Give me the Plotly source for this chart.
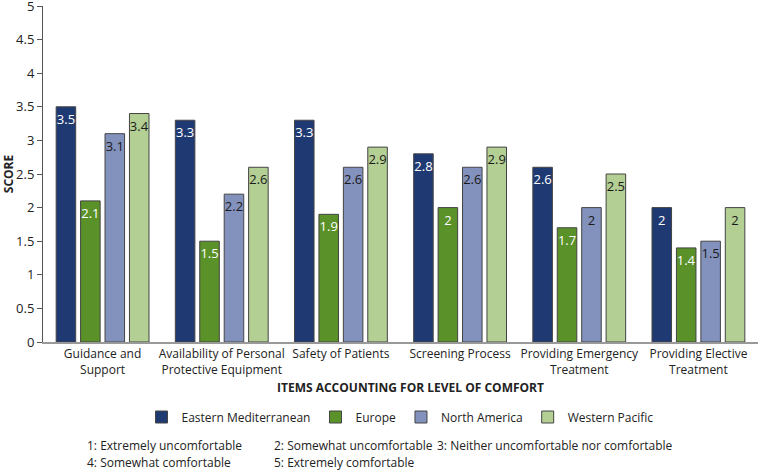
import plotly.graph_objects as go

categories = ["Guidance and<br>Support", "Availability of Personal<br>Protective Equipment",
              "Safety of Patients", "Screening Process",
              "Providing Emergency<br>Treatment", "Providing Elective<br>Treatment"]
series_names = ["Eastern Mediterranean", "Europe", "North America", "Western Pacific"]
eastern_med = [3.5, 3.3, 3.3, 2.8, 2.6, 2.0]
europe = [2.1, 1.5, 1.9, 2.0, 1.7, 1.4]
north_america = [3.1, 2.2, 2.6, 2.6, 2.0, 1.5]
western_pacific = [3.4, 2.6, 2.9, 2.9, 2.5, 2.0]
y_ticks = [0, 0.5, 1, 1.5, 2, 2.5, 3, 3.5, 4, 4.5, 5]
footnotes = ["1: Extremely uncomfortable", "2: Somewhat uncomfortable",
             "3: Neither uncomfortable nor comfortable",
             "4: Somewhat comfortable", "5: Extremely comfortable"]

colors = ["#1f3a73", "#5a9128", "#8391bd", "#b3cf94"]
text_colors = ["white", "white", "#1a1a1a", "#1a1a1a"]
FONT = "Open Sans"
FS = 12

L, T, B = 43, 6, 128
PW, PH = 758 - L, 470 - T - B

def px_x(x):
    return (x - L) / PW

def px_y(y):
    return (470 - B - y) / PH

fig = go.Figure()
for name, vals, c, tc in zip(series_names, [eastern_med, europe, north_america, western_pacific], colors, text_colors):
    fig.add_trace(go.Bar(
        x=categories, y=vals, name=name,
        marker=dict(color=c, line=dict(color="#444444", width=1)),
        text=[f"{v:g}" for v in vals], textposition="inside", insidetextanchor="end",
        textangle=0, textfont=dict(color=tc, size=13, family=FONT),
    ))

fig.update_layout(
    width=758, height=470,
    margin=dict(l=L, r=0, t=T, b=B),
    paper_bgcolor="white", plot_bgcolor="white",
    barmode="group", bargap=0.18, bargroupgap=0.2,
    font=dict(family=FONT, size=FS, color="#222222"),
    showlegend=True,
    legend=dict(orientation="h", x=px_x(400), xanchor="center", y=px_y(417), yanchor="middle",
                font=dict(size=FS, family=FONT), traceorder="normal", itemwidth=30,
                tracegroupgap=0),
    uniformtext=dict(mode="show", minsize=13),
)
fig.update_xaxes(showline=True, linecolor="#999999", linewidth=1.5, ticks="",
                 tickfont=dict(size=FS), automargin=False)
fig.update_yaxes(range=[0, 5], tickvals=y_ticks, ticktext=[f"{t:g}" for t in y_ticks],
                 showline=True, linecolor="#555555", linewidth=1, ticks="outside", ticklen=5,
                 tickcolor="#555555", showgrid=False, zeroline=False,
                 tickfont=dict(size=13), automargin=False, ticklabeloverflow="allow",
                 title=dict(text="<b>SCORE</b>", font=dict(size=FS), standoff=5))

ann = [dict(text="<b>ITEMS ACCOUNTING FOR LEVEL OF COMFORT</b>", xref="paper", yref="paper",
            x=px_x(411), y=px_y(387), xanchor="center", yanchor="middle", showarrow=False,
            font=dict(size=FS, family=FONT))]
for txt, (px, py) in zip(footnotes, [(85, 445), (272, 445), (435, 445), (85, 462), (272, 462)]):
    ann.append(dict(text=txt, xref="paper", yref="paper",
                    x=px_x(px), y=px_y(py), xanchor="left", yanchor="middle",
                    showarrow=False, font=dict(size=FS, family=FONT)))
fig.update_layout(annotations=ann)

fig.write_html("out.html", config={"displayModeBar": False},
               post_script="document.body.style.margin='0';")
